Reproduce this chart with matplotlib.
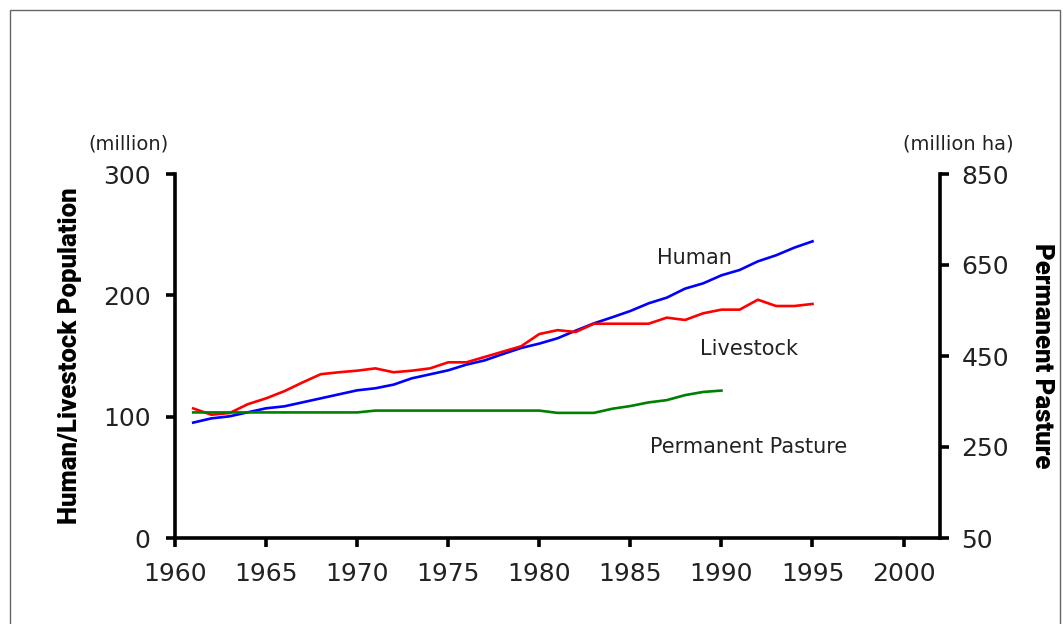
import matplotlib
matplotlib.use("Agg")
import matplotlib.pyplot as plt
from matplotlib.patches import Rectangle

years_pop = list(range(1961, 1996))
human = [95.1, 98.6, 100.3, 103.6, 106.9, 108.5, 111.8, 115.1, 118.4, 121.7,
         123.4, 126.4, 131.6, 134.9, 138.2, 142.9, 146.4, 151.6, 156.6, 160.2,
         164.6, 170.9, 176.9, 181.9, 187.1, 193.4, 198.1, 205.5, 209.9, 216.5,
         220.9, 228.0, 233.0, 239.3, 244.5]
livestock = [106.8, 101.6, 103.0, 110.3, 115.1, 121.0, 128.2, 135.0, 136.6, 137.9,
             139.8, 136.6, 137.9, 139.8, 144.8, 144.8, 149.2, 153.6, 158.0, 168.1,
             171.3, 169.8, 176.6, 176.6, 176.6, 176.6, 181.6, 179.7, 185.2, 188.2,
             188.2, 196.4, 191.2, 191.2, 192.9]
years_pasture = list(range(1961, 1991))
pasture = [326, 326, 326, 326, 326, 326, 326, 326, 326, 326,
           330, 330, 330, 330, 330, 330, 330, 330, 330, 330,
           325, 325, 325, 334, 340, 348, 353, 364, 371, 374]

left_ticks = [0, 100, 200, 300]
right_ticks = [50, 250, 450, 650, 850]
x_ticks = [1960, 1965, 1970, 1975, 1980, 1985, 1990, 1995, 2000]

plt.rcParams['font.family'] = ['DejaVu Sans']
txt = '#222222'
label_font = ['Roboto', 'DejaVu Sans']

fig = plt.figure(figsize=(10.63, 6.24), dpi=100)
ax = fig.add_axes([175/1063, 1-538/624, (940-175)/1063, (538-174)/624])
ax2 = ax.twinx()

ax.plot(years_pop, human, color='#0000ff', lw=1.9, zorder=3)
ax.plot(years_pop, livestock, color='#ff0000', lw=1.9, zorder=3)
ax2.plot(years_pasture, pasture, color='#008000', lw=1.9, zorder=3)

ax.set_xlim(1960, 2002)
ax.set_ylim(0, 300)
ax2.set_ylim(50, 850)
ax.set_xticks(x_ticks)
ax.set_yticks(left_ticks)
ax2.set_yticks(right_ticks)

for a in (ax, ax2):
    a.spines['top'].set_visible(False)
    for s in ('left', 'right', 'bottom'):
        a.spines[s].set_linewidth(2.6)
        a.spines[s].set_color('black')
ax.spines['right'].set_visible(False)
ax2.spines['left'].set_visible(False)
ax2.spines['bottom'].set_visible(False)

ax.tick_params(axis='both', direction='out', length=6.5, width=2.6,
               labelsize=18, labelcolor=txt)
ax.tick_params(axis='y', pad=11)
ax.tick_params(axis='x', pad=11)
ax2.tick_params(axis='y', direction='out', length=6.5, width=2.6,
                labelsize=18, labelcolor=txt, pad=9)

ax.set_ylabel('Human/Livestock Population', fontsize=18.5, fontweight='black',
              family=label_font, labelpad=15)
ax2.set_ylabel('Permanent Pasture', fontsize=18.5, fontweight='black',
               family=label_font, rotation=-90, labelpad=32)

fig.text(128/1063, 1-144/624, '(million)', ha='center', va='center',
         fontsize=14, color=txt)
fig.text(958/1063, 1-144/624, '(million ha)', ha='center', va='center',
         fontsize=14, color=txt)

ax.annotate('Human', xy=(1988.5, 231), ha='center', va='center',
            fontsize=15, color=txt)
ax.annotate('Livestock', xy=(1991.5, 156), ha='center', va='center',
            fontsize=15, color=txt)
ax.annotate('Permanent Pasture', xy=(1991.5, 75), ha='center', va='center',
            fontsize=15, color=txt)

fig.patches.append(Rectangle((10/1063, -0.05), 1050/1063, 1.05 - 10/624,
                             transform=fig.transFigure, fill=False,
                             edgecolor='#666666', lw=1))

fig.savefig('out.png', dpi=100)
